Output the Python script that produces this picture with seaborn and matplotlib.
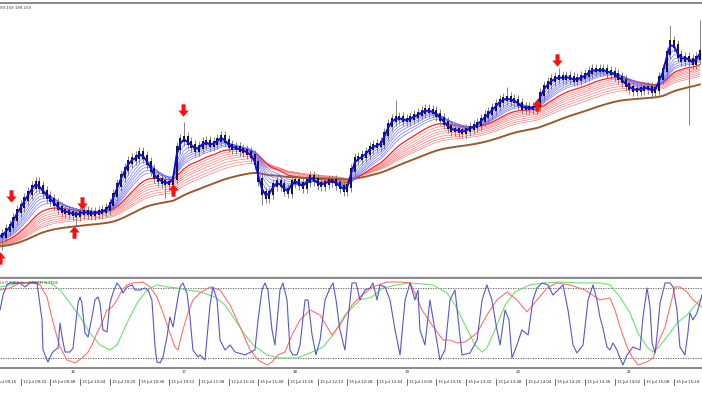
import numpy as np
import pandas as pd
import seaborn as sns
import matplotlib.pyplot as plt
import matplotlib.transforms as mtransforms
from matplotlib.path import Path

sns.set_style("white")
plt.rcParams["font.family"] = ["DejaVu Sans"]

# 2-minute closes (price units), bar i at minute 6 + 2*i after 09:16
pre_close = [28, 30, 33, 31, 34, 36, 35, 38, 37, 40, 39, 42]
close = [41, 47, 51, 58, 66, 71, 78, 84, 90, 94,
         90, 85, 80, 77, 73, 69, 66, 65, 64, 63,
         62, 64, 65, 64, 63, 64, 65, 66, 68, 73,
         82, 92, 101, 108, 115, 118, 120, 124, 120, 114,
         107, 100, 97, 95, 94, 94, 99, 129, 137, 139,
         134, 131, 127, 130, 134, 135, 132, 134, 137, 140,
         136, 131, 129, 129, 127, 126, 124, 121, 114, 97,
         84, 80, 84, 92, 95, 92, 87, 85, 95, 96,
         93, 90, 96, 100, 97, 93, 92, 94, 96, 96,
         93, 90, 87, 91, 107, 118, 119, 121, 124, 129,
         131, 132, 134, 143, 152, 157, 159, 159, 157, 157,
         159, 161, 163, 165, 167, 166, 165, 162, 158, 154,
         150, 147, 147, 146, 145, 147, 149, 151, 153, 157,
         161, 164, 168, 172, 176, 178, 179, 177, 176, 173,
         169, 169, 169, 169, 172, 183, 190, 194, 197, 199,
         200, 199, 200, 199, 197, 198, 200, 202, 205, 207,
         207, 207, 207, 205, 204, 202, 199, 196, 192, 189,
         187, 187, 188, 189, 189, 186, 188, 199, 207, 224,
         235, 231, 221, 217, 219, 217, 214, 219, 225]
hi_idx = [49, 106, 136, 150, 180, 188]
hi_val = [155, 177, 190, 209, 252, 257]
lo_idx = [0, 20, 44, 70, 185]
lo_val = [27, 51, 79, 72, 152]

arrow_dn_t = [10.8, 49.0, 103.4, 305.0]
arrow_dn_p = [81, 74, 167, 217]
arrow_up_t = [5.0, 44.7, 98.0, 294.0]
arrow_up_p = [19, 45, 87, 172]

blue_spans = [3, 4.5, 6, 7.5, 9, 11, 13]
red_spans = [18, 21, 24, 27, 30, 34, 38, 42]
brown_span = 60

# oscillator lines (minute, value)
osc_blue_t = [4.9, 6.5, 8.6, 10.2, 15.6, 18.3, 21.0, 24.8, 25.3, 27.5, 28.0, 30.7, 32.9, 34.5, 36.1, 37.2, 38.3,
              39.9, 42.6, 44.2, 46.9, 48.0, 49.0, 50.6, 52.3, 54.4, 56.0, 57.6, 58.7, 60.3, 62.5, 64.1, 65.7,
              67.9, 69.5, 71.1, 73.3, 76.0, 77.6, 80.3, 83.0, 84.6, 86.7, 88.4, 89.4, 91.1, 92.7, 94.8, 96.4,
              98.1, 100.2, 101.8, 103.4, 105.6, 107.2, 108.8, 111.5, 112.6, 115.3, 118.0, 119.6, 121.8, 123.4,
              126.1, 128.8, 131.5, 136.9, 142.2, 143.9, 146.0, 147.6, 149.2, 151.4, 153.0, 155.7, 157.3, 159.5,
              161.1, 162.7, 164.9, 166.5, 169.2, 170.8, 173.0, 175.1, 177.3, 180.0, 182.7, 184.3, 185.9, 188.0,
              190.7, 192.3, 194.5, 196.7, 198.8, 201.5, 204.2, 205.8, 208.0, 209.6, 212.3, 215.0, 217.7, 220.4,
              223.1, 225.8, 228.4, 230.1, 231.1, 233.8, 236.5, 239.2, 241.9, 244.6, 247.3, 250.0, 253.8, 258.1,
              261.9, 264.6, 267.2, 269.9, 272.6, 274.3, 277.0, 279.1, 280.7, 283.4, 286.1, 289.4, 292.0, 294.2,
              296.9, 300.1, 302.8, 305.5, 308.2, 310.9, 313.6, 315.7, 319.0, 321.7, 324.4, 326.5, 328.1, 329.7,
              331.9, 333.5, 335.1, 337.3, 338.9, 340.5, 342.7, 345.9, 349.7, 351.3, 353.5, 355.1, 356.2, 357.8,
              358.8, 360.5, 363.2, 365.8, 367.5, 369.6, 371.2, 373.9, 375.5, 376.6, 378.2, 380.4, 383.1]
osc_blue_v = [61.3, 74.0, 82.6, 84.3, 84.3, 80.9, 84.3, 84.3, 78.3, 52.8, 27.2, 17.0, 24.7, 27.2, 28.9, 50.2, 38.3,
              25.5, 25.5, 28.9, 67.2, 72.3, 67.2, 41.7, 38.3, 55.3, 69.8, 72.3, 67.2, 44.3, 42.6, 67.2, 75.7,
              84.3, 80.9, 75.7, 80.9, 82.6, 78.3, 78.3, 80.0, 78.3, 69.8, 29.8, 17.0, 16.2, 21.3, 38.3, 55.3,
              46.8, 67.2, 80.9, 84.3, 75.7, 55.3, 27.2, 21.3, 23.0, 18.7, 65.5, 80.9, 69.8, 35.7,
              27.2, 31.5, 25.5, 23.0, 27.2, 52.8, 78.3, 84.3, 78.3, 44.3, 31.5, 78.3, 84.3, 69.8,
              27.2, 23.0, 23.0, 31.5, 69.8, 69.8, 40.0, 23.0, 35.7, 69.8, 80.0, 84.3, 69.8, 44.3,
              27.2, 52.8, 84.3, 84.3, 69.8, 78.3, 80.0, 84.3, 69.8, 82.6, 80.9, 69.8, 44.3, 23.0,
              69.8, 84.3, 69.8, 78.3, 44.3, 31.5, 69.8, 44.3, 18.7, 27.2, 69.8, 78.3, 23.0, 24.7,
              35.7, 69.8, 82.6, 69.8, 44.3, 31.5, 61.3, 52.8, 20.4, 31.5, 44.3, 40.0, 69.8, 80.0,
              84.3, 82.6, 74.0, 78.3, 82.6, 61.3, 31.5, 24.7, 31.5, 69.8, 82.6, 69.8, 55.3, 46.0,
              29.8, 27.2, 33.2, 27.2, 20.4, 14.5, 23.0, 29.8, 27.2, 55.3, 80.0, 63.8, 33.2, 24.7,
              38.3, 67.2, 84.3, 84.3, 80.9, 61.3, 29.8, 23.0, 41.7, 58.7, 52.8, 58.7, 74.0]
osc_red_t = [4.9, 10.2, 15.6, 22.6, 26.4, 30.2, 31.8, 34.5, 37.2, 40.9, 45.3, 49.0, 52.3, 54.4, 57.1, 59.8, 62.5,
             65.2, 67.9, 70.6, 73.3, 76.5, 81.9, 85.7, 89.4, 92.7, 96.4, 99.1, 100.7, 103.4, 106.1, 108.8, 112.6,
             118.0, 123.4, 128.8, 134.2, 139.6, 143.9, 148.7, 151.4, 154.6, 158.4, 162.2, 166.5, 171.9, 177.3,
             183.7, 188.0, 194.5, 199.9, 205.8, 213.4, 220.4, 225.8, 228.4, 232.2, 237.6, 243.5, 247.3, 251.1,
             255.4, 261.9, 267.2, 272.6, 278.0, 283.4, 288.8, 294.2, 299.6, 304.9, 311.9, 320.0, 328.1, 333.5,
             336.2, 338.9, 342.7, 345.4, 348.6, 353.5, 356.7, 359.4, 363.2, 365.8, 368.5, 371.2, 375.0, 378.2, 383.1]
osc_red_v = [78.3, 80.0, 84.3, 85.1, 82.6, 72.3, 61.3, 44.3, 29.8, 18.7, 16.2, 20.4, 25.5, 31.5, 41.7, 50.2, 61.3,
             63.8, 69.8, 78.3, 82.6, 84.3, 85.1, 80.9, 72.3, 58.7, 41.7, 29.8, 27.2, 44.3, 58.7, 69.8, 75.7,
             80.9, 78.3, 65.5, 46.8, 27.2, 18.7, 14.5, 17.0, 23.0, 25.5, 40.0, 52.8, 61.3, 57.0,
             40.0, 48.5, 65.5, 74.0, 80.9, 85.1, 85.1, 84.3, 75.7, 61.3, 48.5, 35.7, 35.7, 33.2,
             34.0, 41.7, 57.0, 69.8, 76.6, 69.8, 59.6, 69.8, 80.0, 84.3, 82.6, 78.3, 69.8, 71.5,
             61.3, 46.8, 29.8, 21.3, 14.5, 17.0, 20.4, 33.2, 46.8, 63.8, 80.9, 80.9, 76.6, 69.8, 63.8]
osc_green_t = [4.9, 15.6, 26.4, 31.8, 37.2, 42.6, 48.0, 53.3, 58.7, 64.1, 67.9, 73.3, 78.7, 84.1, 89.4, 94.8,
               100.2, 105.6, 112.6, 120.7, 126.1, 131.5, 136.9, 141.2, 148.7, 155.7, 164.9, 171.9, 178.9, 184.3,
               190.7, 198.8, 205.3, 211.2, 218.8, 225.8, 238.1, 245.7, 250.0, 255.4, 260.8, 264.6, 267.2, 271.5,
               277.0, 282.3, 290.4, 298.5, 306.6, 317.3, 328.1, 333.5, 338.9, 344.3, 348.6, 353.5, 356.7, 359.4,
               364.2, 369.6, 375.0, 380.4, 383.1]
osc_green_v = [80.9, 84.3, 85.1, 84.3, 78.3, 67.2, 55.3, 41.7, 31.5, 27.2, 31.5, 50.2, 67.2, 78.3, 82.6, 80.9,
               80.0, 78.3, 76.6, 72.3, 65.5, 52.8, 40.0, 31.5, 23.0, 20.4, 20.4, 24.7, 29.8, 40.0,
               57.0, 69.8, 72.3, 80.0, 82.6, 84.3, 82.6, 75.7, 65.5, 48.5, 31.5, 25.5, 28.9, 44.3,
               65.5, 76.6, 82.6, 84.3, 85.1, 84.3, 84.3, 82.6, 72.3, 58.7, 41.7, 29.8, 25.5, 28.9,
               38.3, 50.2, 57.0, 67.2, 71.5]

tick_labels = ["15 Jul 09:16", "15 Jul 09:32", "15 Jul 09:48", "15 Jul 10:04", "15 Jul 10:20", "15 Jul 10:36",
               "15 Jul 10:52", "15 Jul 11:08", "15 Jul 11:24", "15 Jul 11:40", "15 Jul 11:56", "15 Jul 12:12",
               "15 Jul 12:28", "15 Jul 12:44", "15 Jul 13:00", "15 Jul 13:16", "15 Jul 13:32", "15 Jul 13:48",
               "15 Jul 14:04", "15 Jul 14:20", "15 Jul 14:36", "15 Jul 14:52", "15 Jul 15:08", "15 Jul 15:24"]
tick_minutes = [16 * k for k in range(len(tick_labels))]
hour_labels = ["16", "17", "18", "19", "20", "21"]
hour_minutes = [44, 104, 164, 224, 284, 344]

# ---- derived series
n_pre = len(pre_close)
t_all = np.array([6 + 2 * (i - n_pre) for i in range(n_pre + len(close))], dtype=float)
s_all = pd.Series(pre_close + close, dtype=float)
t_vis = t_all[n_pre:]
c = np.array(close, dtype=float)
o = s_all.shift(1).values[n_pre:]
hi = np.maximum(o, c) + 6
lo = np.minimum(o, c) - 6
hi[hi_idx] = hi_val
lo[lo_idx] = lo_val

fig = plt.figure(figsize=(7.02, 3.95), dpi=100)
ax = fig.add_axes([0, 0.2987, 1, 0.6937])
ax2 = fig.add_axes([0, 0.0684, 1, 0.2278])

def ema(span):
    return s_all.ewm(span=span, adjust=False).mean().values

for sp in red_spans[1:]:
    sns.lineplot(x=t_all, y=ema(sp), ax=ax, color="#ff8080", lw=0.5, estimator=None, zorder=3)
sns.lineplot(x=t_all, y=ema(red_spans[0]), ax=ax, color="#ff2020", lw=0.9, estimator=None, zorder=4)
sns.lineplot(x=t_all, y=ema(brown_span), ax=ax, color="#9c5a2c", lw=1.4, estimator=None, zorder=4)
for sp in blue_spans:
    sns.lineplot(x=t_all, y=ema(sp), ax=ax, color="#6a6aff", lw=0.45, estimator=None, zorder=5)

# candles over the thin ribbons, under the fast line
ax.vlines(t_vis, lo, hi, color="#707070", lw=0.6, zorder=6)
ax.vlines(t_vis, np.minimum(o, c) - 2, np.maximum(o, c) + 2, color="#151515", lw=1.4, zorder=6)

sns.lineplot(x=t_all, y=ema(1.6), ax=ax, color="#0c0cf0", lw=1.4, estimator=None, zorder=7)

# arrows
dn = Path([(-0.16, 0.5), (0.16, 0.5), (0.16, 0.0), (0.42, 0.0), (0.0, -0.5), (-0.42, 0.0), (-0.16, 0.0),
           (-0.16, 0.5)])
up = Path([(x, -y) for x, y in dn.vertices])
ax.scatter(arrow_dn_t, arrow_dn_p, marker=dn, s=80, color="#ff1010", lw=0, zorder=8)
ax.scatter(arrow_up_t, arrow_up_p, marker=up, s=80, color="#ff1010", lw=0, zorder=8)

ax.set_xlim(4.85, 383.1)
ax.set_ylim(0, 274)

# oscillator
sns.lineplot(x=osc_green_t, y=osc_green_v, ax=ax2, color="#70e070", lw=0.8, estimator=None, sort=False)
sns.lineplot(x=osc_red_t, y=osc_red_v, ax=ax2, color="#ff7272", lw=0.8, estimator=None, sort=False)
sns.lineplot(x=osc_blue_t, y=osc_blue_v, ax=ax2, color="#5858c8", lw=0.8, estimator=None, sort=False)
for lvl in (80, 20):
    ax2.axhline(lvl, color="#555555", lw=0.6, ls=(0, (1.5, 1.5)), zorder=1)
ax2.set_xlim(4.85, 383.1)
ax2.set_ylim(11.9, 88.5)

for a in (ax, ax2):
    a.set_xticks([])
    a.set_yticks([])
    a.set_xlabel("")
    a.set_ylabel("")
    for side in ("left", "right"):
        a.spines[side].set_visible(False)
    for side in ("top", "bottom"):
        a.spines[side].set_color("#8a8a8a")
        a.spines[side].set_linewidth(1.4)
ax.spines["bottom"].set_linewidth(1.0)

trans = mtransforms.blended_transform_factory(ax2.transData, ax2.transAxes)
lab_trans = mtransforms.offset_copy(trans, fig=fig, x=2, y=0, units="dots")
for t, lab in zip(tick_minutes, tick_labels):
    ax2.plot([t, t], [-0.12, -0.19], transform=trans, color="#333333", lw=0.5, clip_on=False)
    ax2.text(t, -0.155, lab, transform=lab_trans, fontsize=2.8, ha="left", va="center", color="#222222",
             clip_on=False)
for t, lab in zip(hour_minutes, hour_labels):
    ax2.text(t, -0.045, lab, transform=trans, fontsize=2.8, ha="center", va="center", color="#222222")

fig.text(0.0, 1 - 8 / 395, "99.159 199.159", fontsize=2.8, ha="left", va="center", color="#333333")
ax2.text(0.0, 1 - 5 / 90, "(i) 0.9469 StochRSI(3) 0.7101", transform=ax2.transAxes, fontsize=2.8,
         ha="left", va="center", color="#333333")

fig.savefig("out.png", dpi=100)
plt.close(fig)
